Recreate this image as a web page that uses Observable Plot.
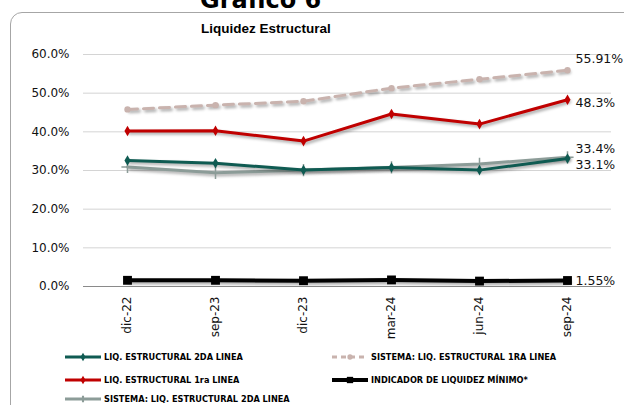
<!DOCTYPE html>
<html>
<head>
<meta charset="utf-8">
<script src="https://cdn.jsdelivr.net/npm/d3@7"></script>
<script src="https://cdn.jsdelivr.net/npm/@observablehq/plot@0.6"></script>
<style>
  body { margin:0; background:#fff; width:624px; height:405px; overflow:hidden; position:relative; font-family:"DejaVu Sans", sans-serif; }
  #frame { position:absolute; left:10px; top:12px; width:640px; height:420px; border:1px solid #a6a6a6; border-radius:12px; }
  #bigtitle { position:absolute; left:200px; top:-14px; font:bold 24px "DejaVu Sans", sans-serif; color:#000; }
  #title { position:absolute; left:0; width:532px; top:21px; text-align:center; font:bold 13.5px "Liberation Sans", sans-serif; color:#000; }
  #chart { position:absolute; left:0; top:0; }
  .leg { position:absolute; display:flex; align-items:center; font:bold 8.2px "DejaVu Sans", sans-serif; color:#000; white-space:nowrap; }
  .leg svg { margin-right:3px; }
</style>
</head>
<body>
<div id="frame"></div>
<div id="bigtitle">Gráfico 6</div>
<div id="title">Liquidez Estructural</div>
<div id="chart"></div>
<div id="legend"></div>
<script>
const categories = ["dic-22","sep-23","dic-23","mar-24","jun-24","sep-24"];
const liq2da = [32.6, 31.9, 30.1, 30.8, 30.1, 33.1];
const liq1ra = [40.2, 40.3, 37.6, 44.6, 42.0, 48.3];
const sis2da = [30.9, 29.4, 30.1, 30.8, 31.7, 33.4];
const sis1ra = [45.8, 46.9, 47.9, 51.3, 53.6, 55.91];
const minimo = [1.6, 1.6, 1.5, 1.7, 1.4, 1.55];
const yTicks = [0, 10, 20, 30, 40, 50, 60];

const seriesNames = ["LIQ. ESTRUCTURAL 2DA LINEA","SISTEMA: LIQ. ESTRUCTURAL 1RA LINEA","LIQ. ESTRUCTURAL 1ra LINEA","INDICADOR DE LIQUIDEZ MÍNIMO*","SISTEMA: LIQ. ESTRUCTURAL 2DA LINEA"];
const seriesValues = [liq2da, sis1ra, liq1ra, minimo, sis2da];
const seriesColors = ["#0f5b52","#c9b3ae","#c00000","#000000","#8c9c98"];
const seriesSymbols = ["diamond","circle","diamond","square","plus"];
const seriesDash = [null, "10,6", null, null, null];
const seriesWidth = [3, 3, 3, 4, 3];
const endLabels = ["33.1%","55.91%","48.3%","1.55%","33.4%"];
const endDy = [6, -11, 3, 0, -8];

const data = [];
seriesNames.forEach((s, i) => seriesValues[i].forEach((v, j) => data.push({series:s, idx:i, cat:categories[j], v})));

const drawOrder = [1, 4, 0, 2, 3];
const marks = [
  Plot.ruleY(yTicks.filter(d => d > 0), {stroke:"#d4d4d4", strokeWidth:1}),
  Plot.ruleY([0], {stroke:"#8a8a8a", strokeWidth:1}),
];
for (const i of drawOrder) {
  const d = data.filter(r => r.idx === i);
  marks.push(Plot.line(d, {x:"cat", y:"v", stroke:seriesColors[i], strokeWidth:seriesWidth[i], strokeDasharray:seriesDash[i]}));
  const sym = seriesSymbols[i];
  const r = sym === "square" ? 5 : (sym === "plus" ? 4 : 3.2);
  if (sym === "plus") {
    marks.push(Plot.dot(d, {x:"cat", y:"v", symbol:sym, stroke:seriesColors[i], strokeWidth:1.5, r}));
  } else {
    marks.push(Plot.dot(d, {x:"cat", y:"v", symbol:sym, fill:seriesColors[i], r}));
  }
  const last = d[d.length - 1];
  marks.push(Plot.text([last], {x:"cat", y:"v", text:() => endLabels[i], textAnchor:"start", dx:8, dy:endDy[i], fontSize:12.5, fill:"#111", fontFamily:"DejaVu Sans"}));
}

const chart = Plot.plot({
  width:624, height:345,
  marginLeft:83, marginRight:13, marginTop:54, marginBottom:59,
  style:{fontFamily:"DejaVu Sans", fontSize:"12px", color:"#111", background:"transparent", overflow:"visible"},
  x:{type:"point", domain:categories, padding:0.5, label:null, tickSize:0, tickPadding:10, tickRotate:-90},
  y:{domain:[0,60], ticks:yTicks, tickFormat:d => d.toFixed(1) + "%", label:null, tickSize:0, tickPadding:14},
  marks
});
d3.select(chart).selectAll("g[aria-label='line']").style("filter","drop-shadow(2px 2px 1.5px rgba(0,0,0,0.35))");
document.getElementById("chart").appendChild(chart);

// Legend
const legPos = [
  {i:0, x:65, y:357}, {i:1, x:332, y:357},
  {i:2, x:65, y:380}, {i:3, x:332, y:380},
  {i:4, x:65, y:399}
];
const leg = document.getElementById("legend");
for (const p of legPos) {
  const i = p.i;
  const div = document.createElement("div");
  div.className = "leg";
  div.style.left = p.x + "px";
  div.style.top = (p.y - 6) + "px";
  const s = d3.create("svg").attr("width", 36).attr("height", 12);
  s.append("line").attr("x1",0).attr("x2",36).attr("y1",6).attr("y2",6)
    .attr("stroke", seriesColors[i]).attr("stroke-width", seriesWidth[i])
    .attr("stroke-dasharray", seriesDash[i] ? "5,4" : null);
  const sym = d3.symbol().type({diamond:d3.symbolDiamond, circle:d3.symbolCircle, square:d3.symbolSquare, plus:d3.symbolCross}[seriesSymbols[i]]).size(seriesSymbols[i]==="square"?40:22);
  s.append("path").attr("d", sym()).attr("transform","translate(18,6)").attr("fill", seriesColors[i]);
  div.appendChild(s.node());
  const t = document.createElement("span");
  t.textContent = seriesNames[i];
  div.appendChild(t);
  leg.appendChild(div);
}
</script>
</body>
</html>
